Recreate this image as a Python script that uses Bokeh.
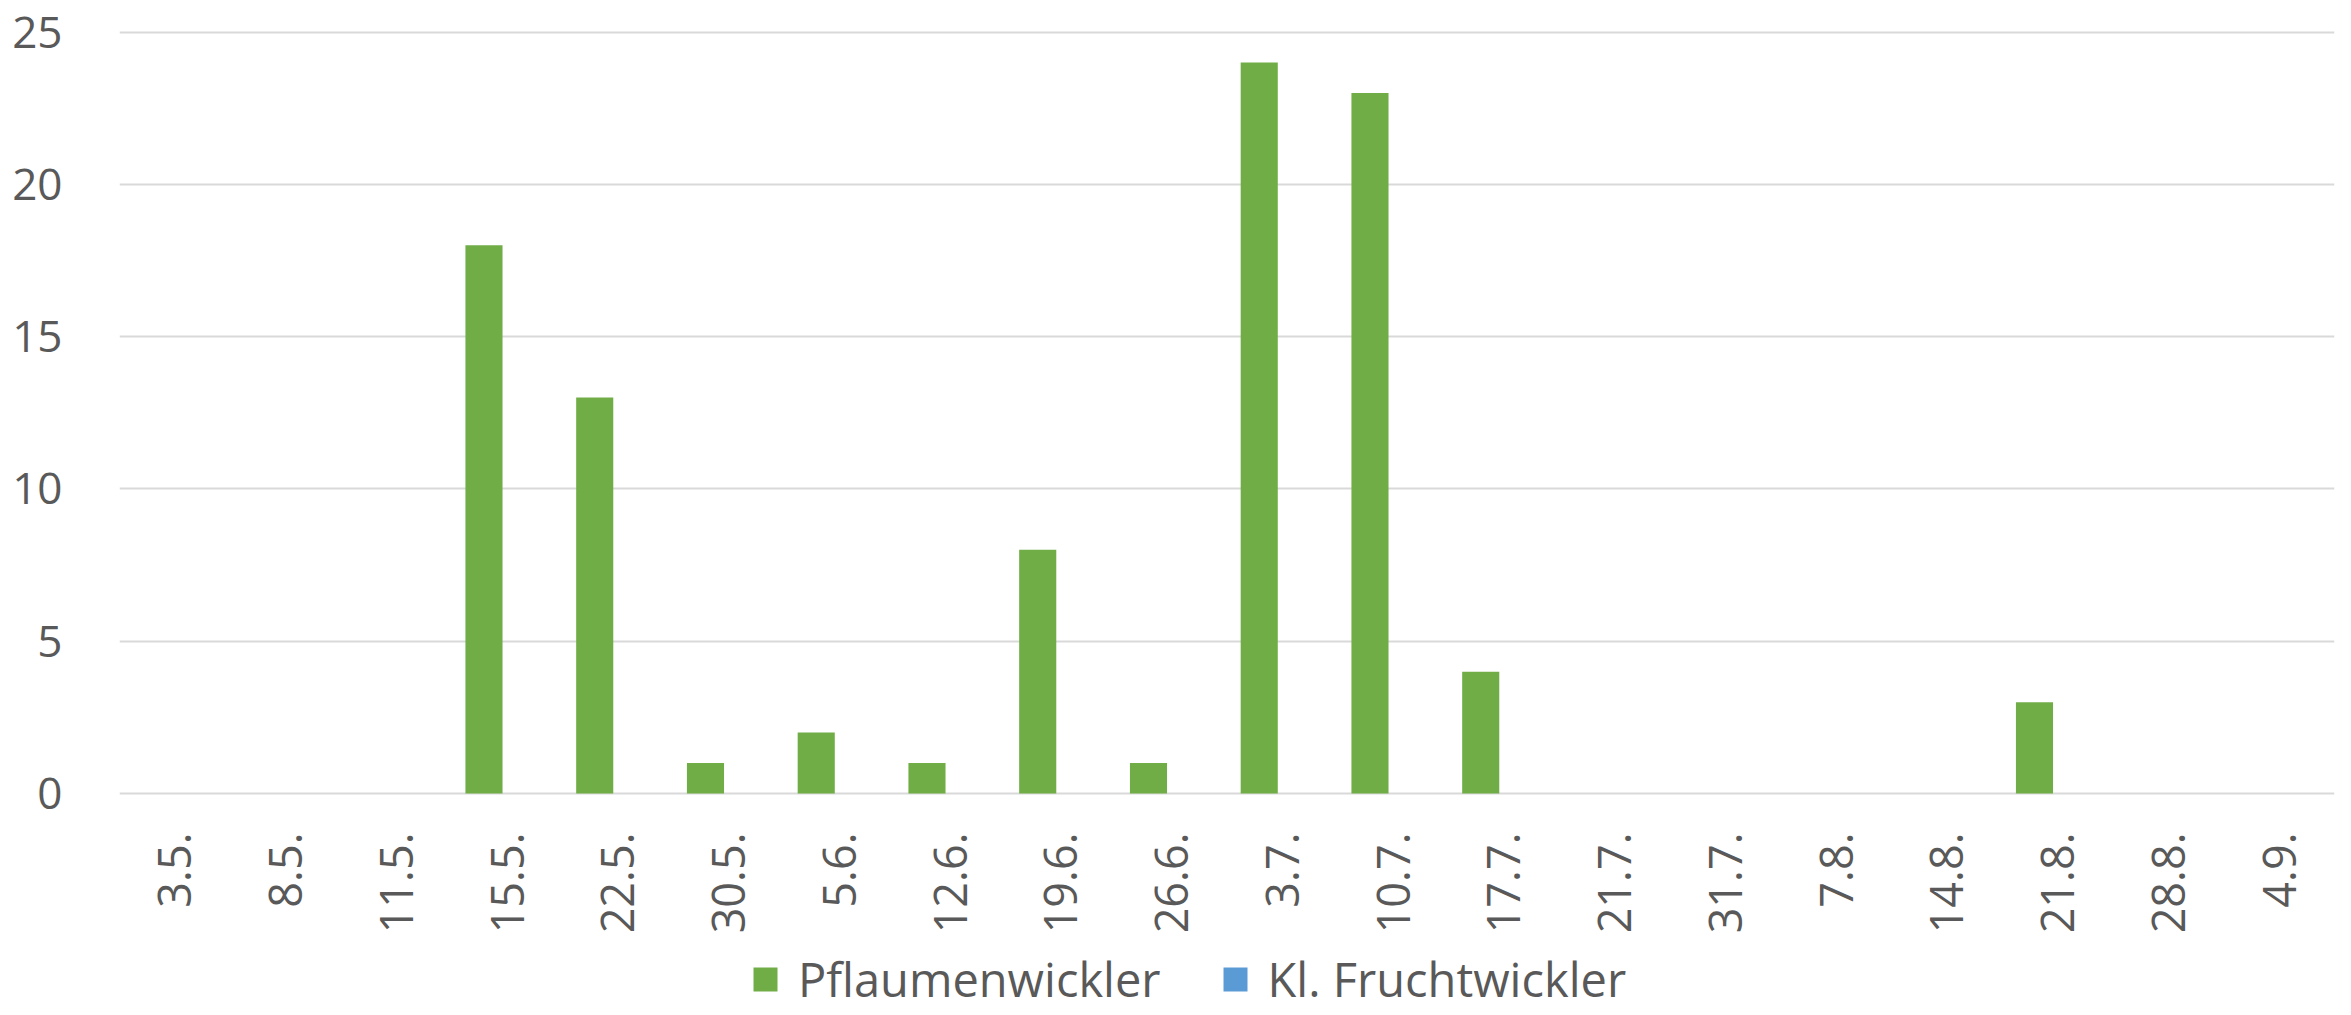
import math
from bokeh.plotting import figure
from bokeh.models import (ColumnDataSource, FactorRange, Range1d, Legend, LegendItem,
                          FixedTicker, CategoricalAxis, LinearAxis)
from bokeh.transform import dodge
from bokeh.embed import file_html
from bokeh.resources import INLINE

dates = ["3.5.", "8.5.", "11.5.", "15.5.", "22.5.", "30.5.", "5.6.", "12.6.", "19.6.", "26.6.",
         "3.7.", "10.7.", "17.7.", "21.7.", "31.7.", "7.8.", "14.8.", "21.8.", "28.8.", "4.9."]
pflaumenwickler = [0, 0, 0, 18, 13, 1, 2, 1, 8, 1, 24, 23, 4, 0, 0, 0, 0, 3, 0, 0]
fruchtwickler = [0] * 20
y_ticks = [0, 5, 10, 15, 20, 25]

GREEN = "#70AD47"
BLUE = "#5B9BD5"
TEXT = "#595959"
FONT = "Open Sans"

# layout: frame spans from the top border to the bottom of the figure;
# the region below y=0 hosts the category labels and the legend.
W, H, TOP = 2351, 1015, 30
PX_PER_UNIT = 30.46
y_end = 25.05
y_start = y_end - (H - TOP) / PX_PER_UNIT

src = ColumnDataSource(dict(d=dates, p=pflaumenwickler, f=fruchtwickler))

p = figure(x_range=FactorRange(*dates), y_range=Range1d(y_start, y_end),
           width=W, height=H, output_backend="svg", toolbar_location=None,
           x_axis_location=None, y_axis_location=None,
           min_border_left=119, min_border_right=17, min_border_top=TOP, min_border_bottom=0)

r1 = p.vbar(x=dodge("d", -0.209, range=p.x_range), top="p", width=0.335, source=src,
            fill_color=GREEN, line_color=None)
r2 = p.vbar(x=dodge("d", 0.126, range=p.x_range), top="f", width=0.335, source=src,
            fill_color=BLUE, line_color=None)

p.outline_line_color = None

xaxis = CategoricalAxis(fixed_location=0)
yaxis = LinearAxis(ticker=FixedTicker(ticks=y_ticks))
p.add_layout(xaxis, "below")
p.add_layout(yaxis, "left")

p.xgrid.grid_line_color = None
p.ygrid.ticker = FixedTicker(ticks=y_ticks)
p.ygrid.grid_line_color = "#D9D9D9"
p.ygrid.grid_line_width = 2

for ax in (xaxis, yaxis):
    ax.axis_line_color = None
    ax.major_tick_line_color = None
    ax.minor_tick_line_color = None
    ax.major_label_text_color = TEXT
    ax.major_label_text_font = FONT
    ax.major_label_text_font_size = "45px"
yaxis.major_label_text_font_size = "44px"
yaxis.major_label_standoff = 51
xaxis.major_label_orientation = math.pi / 2
xaxis.major_label_standoff = 33

legend = Legend(items=[LegendItem(label="Pflaumenwickler", renderers=[r1]),
                       LegendItem(label="Kl. Fruchtwickler", renderers=[r2])],
                orientation="horizontal", location=(631, 4),
                label_text_font=FONT, label_text_font_size="47px", label_text_color=TEXT,
                glyph_width=30, glyph_height=30, label_standoff=18, spacing=59,
                border_line_color=None, background_fill_alpha=0, padding=0, margin=0)
p.add_layout(legend, "center")

open("out.html", "w").write(file_html(p, INLINE))
